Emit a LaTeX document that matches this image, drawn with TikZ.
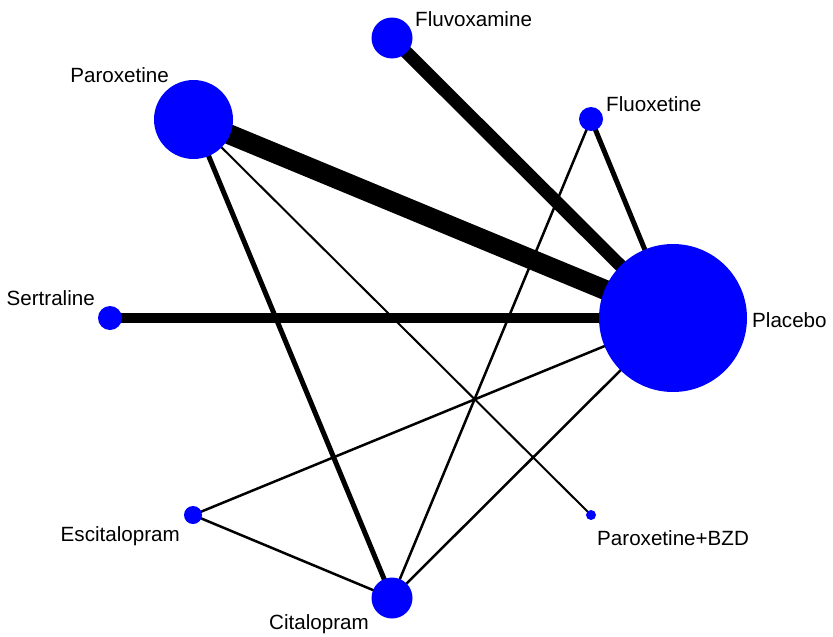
\documentclass[tikz,border=0pt]{standalone}
\usepackage{fontspec}
\setmainfont{Liberation Sans}
\usetikzlibrary{backgrounds}
\definecolor{nodeblue}{RGB}{0,0,255}
\begin{document}
\begin{tikzpicture}[x=1pt,y=-1pt,
  drug/.style={circle,fill=nodeblue,draw=none,inner sep=0pt,minimum size=#1},
  lbl/.style={inner sep=0pt,font=\fontsize{20.6}{24}\selectfont,text=black},
  edge/.style={draw=black,line width=#1,line cap=butt}]
\useasboundingbox (0,0) rectangle (833,637);
% nodes
\node[drug=148pt] (plac) at (673,318) {};
\node[drug=24pt]  (fluox) at (591,119) {};
\node[drug=41pt]  (fluvo) at (392,38) {};
\node[drug=79pt]  (parox) at (193.5,119.5) {};
\node[drug=24pt]  (sert) at (110,318) {};
\node[drug=18pt]  (escit) at (193,515) {};
\node[drug=41pt]  (cital) at (392,598) {};
\node[drug=10pt]  (pbzd) at (591,515) {};
% labels
\node[lbl,anchor=base west] (lplac) at (752,327.5) {Placebo};
\node[lbl,anchor=base west] (lfluox) at (606,111.5) {Fluoxetine};
\node[lbl,anchor=base west] (lfluvo) at (415,26) {Fluvoxamine};
\node[lbl,anchor=base east] (lparox) at (169,82.5) {Paroxetine};
\node[lbl,anchor=base east] (lsert) at (95,305.5) {Sertraline};
\node[lbl,anchor=base east] (lescit) at (180,541) {Escitalopram};
\node[lbl,anchor=base east] (lcital) at (369,629) {Citalopram};
\node[lbl,anchor=base west] (lpbzd) at (597,545) {Paroxetine+BZD};
% edges
\begin{scope}[on background layer]
\draw[edge=20pt] (parox.center) -- (plac.center);
\draw[edge=13pt] (fluvo.center) -- (plac.center);
\draw[edge=9.5pt] (sert.center) -- (plac.center);
\draw[edge=5pt] (fluox.center) -- (plac.center);
\draw[edge=5pt] (parox.center) -- (cital.center);
\draw[edge=2pt] (parox.center) -- (pbzd.center);
\draw[edge=2.5pt] (fluox.center) -- (cital.center);
\draw[edge=2.5pt] (escit.center) -- (plac.center);
\draw[edge=2.5pt] (escit.center) -- (cital.center);
\draw[edge=2.5pt] (cital.center) -- (plac.center);
\end{scope}
\end{tikzpicture}
\end{document}
